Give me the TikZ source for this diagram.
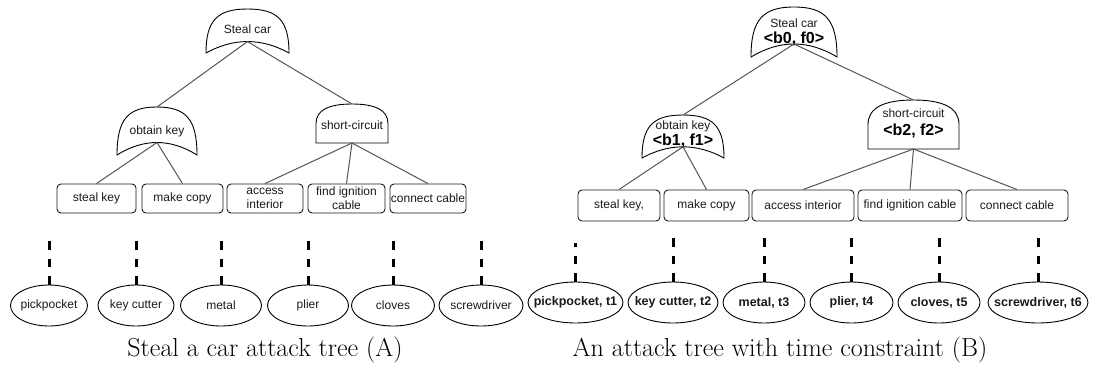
\documentclass[tikz,border=0pt]{standalone}
\usepackage{fontspec}
\setsansfont{Liberation Sans}
\usepackage{tikz}
\usetikzlibrary{shapes.geometric}

\definecolor{linegray}{HTML}{555555}
\definecolor{inkgray}{HTML}{1A1A1A}

% or-gate: name, centre x, top y, width, height
\newcommand{\orgate}[5]{%
  \draw [gate] (#2-#4/2,#3+#5)
    .. controls (#2-#4/2,#3+0.25*#5) and (#2-0.36*#4,#3) .. (#2,#3)
    .. controls (#2+0.36*#4,#3) and (#2+#4/2,#3+0.25*#5) .. (#2+#4/2,#3+#5)
    .. controls (#2+#4/6,#3+0.653*#5) and (#2-#4/6,#3+0.653*#5) .. cycle;
  \coordinate (#1-top) at (#2,#3);
  \coordinate (#1-base) at (#2,#3+0.74*#5);}

% and-gate: name, centre x, top y, width, height
\newcommand{\andgate}[5]{%
  \draw [gate] (#2-#4/2,#3+#5) -- (#2-#4/2,#3+#5/2)
    .. controls (#2-#4/2,#3+#5/6) and (#2-#4/3,#3) .. (#2,#3)
    .. controls (#2+#4/3,#3) and (#2+#4/2,#3+#5/6) .. (#2+#4/2,#3+#5/2)
    -- (#2+#4/2,#3+#5) -- cycle;
  \coordinate (#1-top) at (#2,#3);
  \coordinate (#1-base) at (#2,#3+#5);}

\begin{document}
\begin{tikzpicture}[x=1pt,y=-1pt,
  gate/.style={draw=black,line width=0.9pt,fill=white},
  lbl/.style={anchor=base,text=inkgray,font=\sffamily\fontsize{12}{14}\selectfont},
  tag/.style={anchor=base,text=black,font=\sffamily\bfseries\fontsize{16}{18}\selectfont},
  leaf/.style={draw=inkgray,line width=0.9pt,rounded corners=4pt,inner sep=0pt,align=center,
    text=inkgray,font=\sffamily\fontsize{12}{14}\selectfont},
  tool/.style={ellipse,draw=black,line width=0.9pt,inner sep=0pt,minimum height=41pt,
    text=inkgray,font=\sffamily\fontsize{12}{14}\selectfont,
    execute at begin node={\hbox to 0pt\bgroup\hss},execute at end node={\hss\egroup}},
  btool/.style={tool,font=\sffamily\bfseries\fontsize{12.5}{14}\selectfont},
  branch/.style={draw=linegray,line width=1pt},
  link/.style={draw=black,line width=3pt,dash pattern=on 8.5pt off 9pt},
  caption/.style={anchor=base,font=\rmfamily\fontsize{26}{30}\selectfont}]

\useasboundingbox (0,0) rectangle (1094,365);

% --- plain tree (A) ---
\andgate{a-sc}{352}{104}{72}{39}
\orgate{a-key}{157}{107}{80}{48}
\orgate{a-root}{247.5}{9}{83}{44}
\node [lbl] (a-root-txt) at (247.5,33.3) {Steal car};
\node [lbl] (a-key-txt) at (157,134) {obtain key};
\node [lbl] (a-sc-txt) at (352,129) {short-circuit};

\node [leaf,minimum width=79pt,minimum height=29pt] (a-l1) at (96.5,198.5) {steal key};
\node [leaf,minimum width=81pt,minimum height=29pt] (a-l2) at (182.5,198.5) {make copy};
\node [leaf,minimum width=76pt,minimum height=29pt] (a-l3) at (265,198.5) {access\\interior};
\node [leaf,minimum width=77pt,minimum height=29pt] (a-l4) at (346.5,198.5) {find ignition\\cable};
\node [leaf,minimum width=76pt,minimum height=29pt] (a-l5) at (428,198.5) {connect cable};

\draw [branch] (a-root-base) -- (a-key-top);
\draw [branch] (a-root-base) -- (a-sc-top);
\draw [branch] (a-key-base) -- (a-l1.north);
\draw [branch] (a-key-base) -- (a-l2.north);
\draw [branch] (a-sc-base) -- (a-l3.north);
\draw [branch] (a-sc-base) -- (a-l4.north);
\draw [branch] (a-sc-base) -- (a-l5.north);

\node [tool,minimum width=77pt] (a-t1) at (49,305.5) {pickpocket};
\node [tool,minimum width=76pt] (a-t2) at (136,305.5) {key cutter};
\node [tool,minimum width=81pt] (a-t3) at (221,305.5) {metal};
\node [tool,minimum width=81pt] (a-t4) at (308,305.5) {plier};
\node [tool,minimum width=83pt] (a-t5) at (393,305.5) {cloves};
\node [tool,minimum width=84pt] (a-t6) at (481,305.5) {screwdriver};

\coordinate (a-e1) at (49,240);
\coordinate (a-e2) at (136,240);
\coordinate (a-e3) at (221,240);
\coordinate (a-e4) at (308,240);
\coordinate (a-e5) at (393,240);
\coordinate (a-e6) at (481,240);
\draw [link] (a-t1.north) -- (a-e1);
\draw [link] (a-t2.north) -- (a-e2);
\draw [link] (a-t3.north) -- (a-e3);
\draw [link] (a-t4.north) -- (a-e4);
\draw [link] (a-t5.north) -- (a-e5);
\draw [link] (a-t6.north) -- (a-e6);

\node [caption] (a-cap) at (265,356) {Steal a car attack tree (A)};

% --- tree with time constraint (B) ---
\andgate{b-sc}{913.5}{100}{91}{49}
\orgate{b-key}{683}{115}{82}{43}
\orgate{b-root}{794}{7}{86}{50}
\node [lbl] (b-root-txt) at (794,27.5) {Steal car};
\node [tag] (b-root-tag) at (794,43.5) {<b0, f0>};
\node [lbl] (b-key-txt) at (683,129.3) {obtain key};
\node [tag] (b-key-tag) at (683,145.7) {<b1, f1>};
\node [lbl] (b-sc-txt) at (913.5,117.3) {short-circuit};
\node [tag] (b-sc-tag) at (913.5,135.7) {<b2, f2>};

\node [leaf,minimum width=82pt,minimum height=31pt] (b-l1) at (619,205.5) {steal key,};
\node [leaf,minimum width=85pt,minimum height=31pt] (b-l2) at (706.5,205.5) {make copy};
\node [leaf,minimum width=102pt,minimum height=31pt] (b-l3) at (803,205.5) {access interior};
\node [leaf,minimum width=104pt,minimum height=31pt] (b-l4) at (910,205.5) {find ignition cable};
\node [leaf,minimum width=102pt,minimum height=31pt] (b-l5) at (1017,205.5) {connect cable};

\draw [branch] (b-root-base) -- (b-key-top);
\draw [branch] (b-root-base) -- (b-sc-top);
\draw [branch] (b-key-base) -- (b-l1.north);
\draw [branch] (b-key-base) -- (b-l2.north);
\draw [branch] (b-sc-base) -- (b-l3.north);
\draw [branch] (b-sc-base) -- (b-l4.north);
\draw [branch] (b-sc-base) -- (b-l5.north);

\node [btool,minimum width=95pt] (b-t1) at (575.5,302.5) {pickpocket, t1};
\node [btool,minimum width=90pt] (b-t2) at (673,302.5) {key cutter, t2};
\node [btool,minimum width=82pt] (b-t3) at (764,302.5) {metal, t3};
\node [btool,minimum width=83pt] (b-t4) at (851.5,302.5) {plier, t4};
\node [btool,minimum width=82pt] (b-t5) at (939,302.5) {cloves, t5};
\node [btool,minimum width=100pt] (b-t6) at (1038,302.5) {screwdriver, t6};

\coordinate (b-e1) at (575.5,243);
\coordinate (b-e2) at (673,238);
\coordinate (b-e3) at (764,238);
\coordinate (b-e4) at (851.5,238);
\coordinate (b-e5) at (939,238);
\coordinate (b-e6) at (1038,238);
\draw [link] (b-t1.north) -- (b-e1);
\draw [link] (b-t2.north) -- (b-e2);
\draw [link] (b-t3.north) -- (b-e3);
\draw [link] (b-t4.north) -- (b-e4);
\draw [link] (b-t5.north) -- (b-e5);
\draw [link] (b-t6.north) -- (b-e6);

\node [caption] (b-cap) at (780,356) {An attack tree with time constraint (B)};

\end{tikzpicture}
\end{document}
